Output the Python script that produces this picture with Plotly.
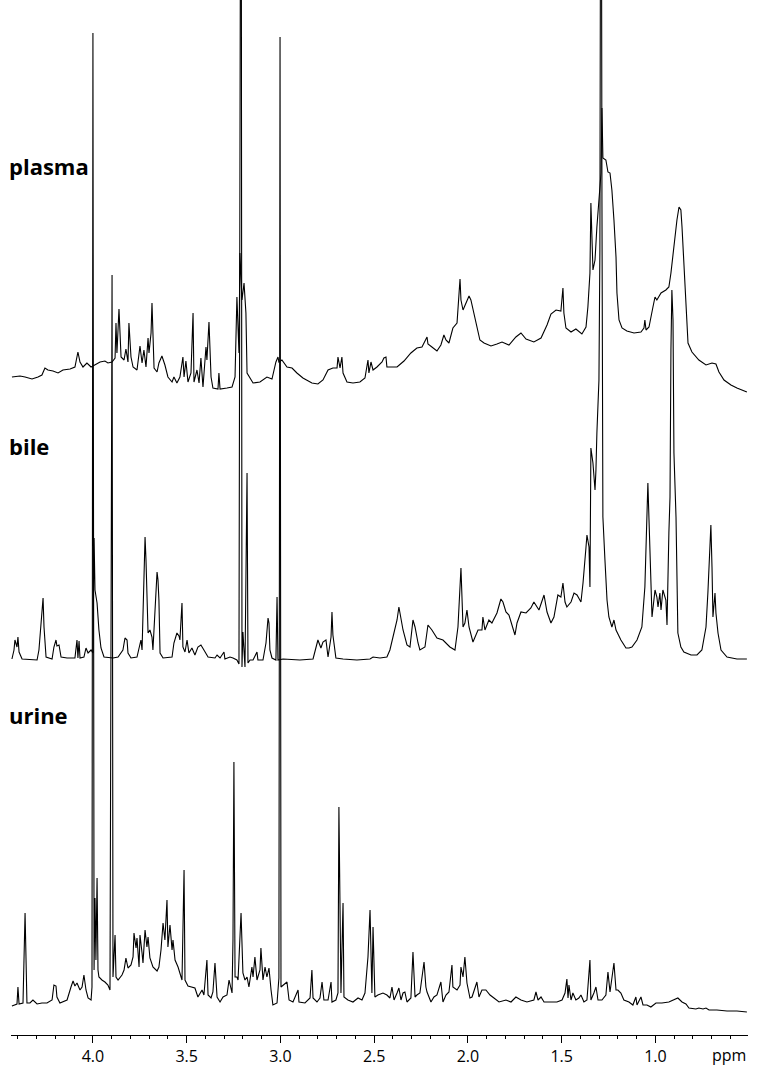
import plotly.graph_objects as go

SPECTRUM_NAMES = ["plasma", "bile", "urine"]

PLASMA_PPM = [4.432, 4.389, 4.362, 4.325, 4.293, 4.272, 4.256, 4.240, 4.213, 4.186, 4.160, 4.122, 4.096, 4.080, 4.069, 4.053, 4.032, 4.010, 4.000, 3.962,
              3.936, 3.920, 3.898, 3.882, 3.877, 3.872, 3.861, 3.850, 3.834, 3.824, 3.813, 3.808, 3.797, 3.786, 3.765, 3.749, 3.738, 3.728, 3.717, 3.706,
              3.701, 3.690, 3.685, 3.674, 3.658, 3.648, 3.632, 3.616, 3.600, 3.578, 3.568, 3.552, 3.536, 3.520, 3.514, 3.504, 3.493, 3.477, 3.466, 3.461,
              3.445, 3.434, 3.424, 3.413, 3.397, 3.392, 3.381, 3.370, 3.360, 3.333, 3.328, 3.322, 3.285, 3.258, 3.242, 3.232, 3.221, 3.216, 3.205, 3.194,
              3.184, 3.178, 3.146, 3.109, 3.072, 3.045, 3.024, 3.013, 3.008, 2.992, 2.965, 2.938, 2.912, 2.880, 2.832, 2.800, 2.773, 2.746, 2.720, 2.698,
              2.693, 2.682, 2.672, 2.666, 2.645, 2.613, 2.576, 2.549, 2.533, 2.528, 2.517, 2.506, 2.485, 2.458, 2.448, 2.437, 2.432, 2.378, 2.341, 2.304,
              2.272, 2.245, 2.218, 2.213, 2.192, 2.165, 2.144, 2.128, 2.117, 2.101, 2.080, 2.058, 2.042, 2.037, 2.026, 1.994, 1.984, 1.957, 1.936, 1.914,
              1.877, 1.845, 1.818, 1.781, 1.744, 1.717, 1.690, 1.648, 1.610, 1.578, 1.557, 1.530, 1.504, 1.493, 1.488, 1.477, 1.450, 1.424, 1.408, 1.392,
              1.370, 1.360, 1.349, 1.344, 1.333, 1.322, 1.312, 1.301, 1.290, 1.285, 1.280, 1.264, 1.253, 1.242, 1.232, 1.221, 1.210, 1.205, 1.194, 1.178,
              1.152, 1.114, 1.077, 1.061, 1.056, 1.050, 1.034, 1.013, 1.002, 0.992, 0.970, 0.944, 0.928, 0.917, 0.901, 0.885, 0.874, 0.864, 0.858, 0.848,
              0.837, 0.826, 0.805, 0.768, 0.730, 0.698, 0.677, 0.661, 0.634, 0.597, 0.565, 0.512]
PLASMA_INT = [23, 24, 23, 21, 23, 25, 32, 30, 29, 27, 30, 31, 33, 48, 38, 33, 37, 33, 34, 38,
              39, 37, 38, 42, 77, 47, 91, 43, 40, 51, 38, 77, 43, 33, 30, 54, 37, 50, 33, 62,
              47, 67, 97, 32, 28, 37, 44, 35, 23, 18, 23, 17, 23, 43, 23, 39, 18, 27, 87, 18,
              30, 17, 42, 13, 53, 40, 78, 23, 12, 11, 27, 11, 12, 13, 23, 103, 47, 147, 100, 117,
              87, 27, 17, 18, 23, 21, 38, 43, 38, 40, 33, 32, 27, 22, 17, 16, 20, 30, 32, 32,
              43, 32, 43, 27, 18, 17, 18, 22, 40, 27, 38, 30, 33, 38, 42, 43, 33, 33, 39, 47,
              52, 53, 63, 56, 53, 49, 55, 65, 60, 57, 72, 77, 121, 100, 90, 104, 100, 77, 60, 57,
              54, 56, 58, 55, 63, 67, 61, 58, 62, 75, 86, 90, 89, 112, 87, 72, 68, 71, 68, 66,
              73, 93, 127, 197, 130, 140, 173, 200, 227, 292, 242, 240, 228, 227, 210, 180, 143, 107, 80, 72,
              69, 67, 68, 72, 80, 70, 73, 93, 103, 100, 107, 110, 113, 127, 157, 180, 193, 190, 173, 137,
              93, 57, 48, 40, 35, 37, 36, 28, 20, 15, 12, 8]

BILE_PPM = [4.432, 4.421, 4.416, 4.405, 4.400, 4.394, 4.378, 4.298, 4.288, 4.277, 4.266, 4.261, 4.250, 4.218, 4.208, 4.197, 4.192, 4.181, 4.170, 4.138,
            4.096, 4.085, 4.080, 4.074, 4.069, 4.048, 4.037, 4.026, 4.010, 4.000, 3.994, 3.989, 3.984, 3.978, 3.968, 3.957, 3.941, 3.909, 3.893, 3.866,
            3.840, 3.829, 3.818, 3.813, 3.797, 3.765, 3.754, 3.744, 3.738, 3.733, 3.722, 3.717, 3.712, 3.706, 3.696, 3.685, 3.680, 3.664, 3.658, 3.653,
            3.648, 3.642, 3.626, 3.578, 3.568, 3.552, 3.541, 3.536, 3.525, 3.520, 3.509, 3.498, 3.488, 3.472, 3.456, 3.440, 3.424, 3.408, 3.386, 3.349,
            3.338, 3.322, 3.301, 3.296, 3.269, 3.253, 3.232, 3.221, 3.210, 3.205, 3.200, 3.189, 3.178, 3.173, 3.162, 3.146, 3.125, 3.120, 3.093, 3.077,
            3.066, 3.061, 3.056, 3.045, 3.024, 3.018, 3.013, 2.986, 2.896, 2.826, 2.810, 2.800, 2.784, 2.773, 2.757, 2.746, 2.730, 2.725, 2.720, 2.704,
            2.666, 2.592, 2.522, 2.506, 2.469, 2.432, 2.416, 2.400, 2.378, 2.368, 2.357, 2.346, 2.325, 2.309, 2.293, 2.282, 2.266, 2.256, 2.229, 2.213,
            2.192, 2.165, 2.133, 2.096, 2.069, 2.053, 2.037, 2.026, 2.016, 2.005, 1.994, 1.973, 1.946, 1.925, 1.920, 1.909, 1.888, 1.872, 1.845, 1.824,
            1.813, 1.797, 1.781, 1.749, 1.738, 1.717, 1.690, 1.664, 1.648, 1.621, 1.594, 1.578, 1.557, 1.541, 1.520, 1.504, 1.493, 1.482, 1.472, 1.450,
            1.434, 1.418, 1.397, 1.386, 1.370, 1.365, 1.354, 1.349, 1.344, 1.333, 1.322, 1.317, 1.312, 1.301, 1.296, 1.290, 1.285, 1.280, 1.269, 1.258,
            1.248, 1.232, 1.221, 1.210, 1.184, 1.157, 1.141, 1.125, 1.098, 1.072, 1.056, 1.045, 1.040, 1.034, 1.024, 1.018, 1.002, 0.992, 0.986, 0.976,
            0.970, 0.960, 0.944, 0.938, 0.928, 0.922, 0.917, 0.912, 0.906, 0.901, 0.890, 0.885, 0.880, 0.864, 0.848, 0.810, 0.778, 0.752, 0.730, 0.720,
            0.714, 0.704, 0.698, 0.693, 0.682, 0.677, 0.666, 0.650, 0.618, 0.565, 0.512]
BILE_INT = [1, 10, 20, 13, 23, 8, 1, 0, 10, 37, 62, 33, 3, 1, 13, 20, 14, 15, 3, 2,
            2, 20, 2, 19, 2, 3, 12, 7, 10, 7, 122, 70, 65, 57, 30, 12, 3, 2, 2, 3,
            10, 22, 20, 7, 2, 3, 12, 20, 10, 40, 123, 100, 67, 27, 30, 23, 10, 60, 88, 80,
            60, 7, 2, 3, 17, 27, 24, 20, 57, 13, 8, 20, 7, 12, 5, 13, 15, 10, 3, 2,
            5, 2, 8, 1, 3, 2, 0, -4, 1060, -7, 28, -7, 187, -3, 0, 0, 8, 0, 0, 17,
            42, 37, 10, 2, 0, 63, 0, 1, 0, 1, 13, 20, 12, 18, 20, 3, 23, 48, 25, 2,
            1, 0, 1, 3, 2, 3, 10, 23, 40, 53, 43, 30, 15, 13, 40, 33, 17, 10, 13, 35,
            30, 22, 20, 13, 10, 33, 92, 33, 37, 50, 33, 18, 30, 30, 43, 30, 40, 37, 47, 61,
            58, 48, 45, 25, 37, 48, 47, 52, 58, 50, 65, 48, 37, 43, 65, 63, 77, 58, 53, 58,
            67, 65, 58, 77, 113, 125, 113, 73, 212, 197, 170, 190, 227, 280, 410, 1060, 460, 143, 100, 60,
            43, 33, 40, 30, 20, 12, 12, 13, 20, 33, 73, 157, 177, 140, 87, 43, 70, 63, 53, 67,
            50, 70, 60, 35, 127, 163, 310, 370, 340, 207, 143, 80, 27, 13, 8, 5, 5, 10, 33, 67,
            97, 135, 93, 43, 67, 47, 27, 10, 3, 1, 1]

URINE_PPM = [4.432, 4.405, 4.400, 4.394, 4.373, 4.362, 4.352, 4.336, 4.320, 4.298, 4.272, 4.245, 4.218, 4.208, 4.197, 4.192, 4.176, 4.138, 4.117, 4.106,
             4.096, 4.085, 4.069, 4.058, 4.048, 4.037, 4.026, 4.010, 4.005, 4.000, 3.994, 3.989, 3.984, 3.978, 3.973, 3.968, 3.952, 3.936, 3.920, 3.909,
             3.898, 3.893, 3.882, 3.877, 3.866, 3.845, 3.834, 3.824, 3.813, 3.797, 3.786, 3.781, 3.770, 3.765, 3.754, 3.749, 3.738, 3.733, 3.722, 3.712,
             3.706, 3.696, 3.680, 3.658, 3.648, 3.637, 3.626, 3.616, 3.605, 3.600, 3.589, 3.578, 3.573, 3.562, 3.546, 3.525, 3.514, 3.509, 3.493, 3.472,
             3.456, 3.440, 3.418, 3.408, 3.392, 3.386, 3.370, 3.360, 3.349, 3.338, 3.322, 3.306, 3.285, 3.274, 3.258, 3.253, 3.248, 3.242, 3.232, 3.226,
             3.210, 3.200, 3.189, 3.178, 3.168, 3.152, 3.146, 3.136, 3.125, 3.109, 3.104, 3.093, 3.082, 3.072, 3.061, 3.050, 3.040, 3.018, 3.008, 3.002,
             2.997, 2.965, 2.954, 2.933, 2.906, 2.901, 2.869, 2.842, 2.832, 2.826, 2.805, 2.789, 2.778, 2.768, 2.746, 2.730, 2.725, 2.704, 2.693, 2.688,
             2.677, 2.666, 2.661, 2.640, 2.613, 2.586, 2.565, 2.549, 2.533, 2.522, 2.512, 2.506, 2.496, 2.480, 2.453, 2.432, 2.416, 2.405, 2.394, 2.378,
             2.368, 2.357, 2.346, 2.336, 2.325, 2.304, 2.293, 2.282, 2.272, 2.256, 2.245, 2.234, 2.224, 2.218, 2.197, 2.181, 2.165, 2.144, 2.133, 2.117,
             2.101, 2.085, 2.080, 2.058, 2.042, 2.037, 2.026, 2.016, 2.005, 1.989, 1.978, 1.962, 1.952, 1.941, 1.925, 1.904, 1.882, 1.861, 1.834, 1.797,
             1.770, 1.744, 1.717, 1.685, 1.648, 1.637, 1.626, 1.610, 1.594, 1.557, 1.525, 1.498, 1.482, 1.472, 1.466, 1.461, 1.450, 1.440, 1.424, 1.408,
             1.397, 1.381, 1.365, 1.349, 1.344, 1.328, 1.317, 1.306, 1.285, 1.264, 1.253, 1.242, 1.232, 1.221, 1.210, 1.200, 1.184, 1.168, 1.141, 1.120,
             1.104, 1.098, 1.077, 1.066, 1.045, 1.024, 0.997, 0.965, 0.928, 0.901, 0.880, 0.858, 0.837, 0.821, 0.784, 0.768, 0.746, 0.730, 0.714, 0.672,
             0.618, 0.565, 0.512]
URINE_INT = [6, 8, 25, 8, 9, 99, 9, 9, 12, 8, 9, 9, 12, 27, 26, 15, 9, 12, 25, 31,
             26, 29, 22, 25, 37, 22, 14, 12, 25, 979, 42, 114, 52, 134, 42, 35, 32, 30, 27, 22,
             737, 35, 77, 35, 32, 37, 42, 54, 44, 47, 55, 79, 64, 74, 45, 77, 59, 49, 82, 65,
             75, 54, 45, 41, 45, 62, 89, 72, 112, 65, 87, 62, 72, 52, 45, 32, 142, 32, 26, 25,
             24, 15, 22, 17, 52, 17, 14, 20, 49, 15, 10, 15, 17, 32, 19, 72, 250, 35, 35, 32,
             99, 39, 32, 35, 25, 45, 35, 55, 32, 42, 64, 32, 45, 35, 44, 22, 7, 9, 34, 975,
             25, 30, 12, 10, 22, 10, 9, 14, 42, 14, 10, 14, 30, 12, 12, 30, 10, 12, 19, 205,
             19, 109, 15, 12, 10, 14, 12, 19, 55, 102, 19, 85, 15, 17, 19, 17, 14, 25, 12, 19,
             24, 12, 19, 20, 10, 14, 60, 15, 17, 19, 35, 50, 25, 20, 10, 15, 17, 30, 10, 17,
             20, 47, 25, 22, 27, 45, 35, 55, 29, 14, 15, 25, 30, 15, 22, 22, 17, 14, 10, 12,
             10, 15, 12, 10, 12, 20, 12, 15, 10, 10, 10, 12, 19, 33, 14, 27, 12, 19, 12, 14,
             17, 10, 12, 52, 12, 19, 25, 12, 12, 17, 40, 20, 32, 49, 22, 22, 19, 12, 10, 7,
             15, 7, 15, 7, 7, 5, 9, 9, 10, 12, 14, 10, 8, 4, 3, 4, 3, 4, 2, 2,
             1, 1, 0]

TICK_VALUES = [4.0, 3.5, 3.0, 2.5, 2.0, 1.5, 1.0]
TICK_LABELS = ["4.0", "3.5", "3.0", "2.5", "2.0", "1.5", "1.0"]
AXIS_UNIT = "ppm"

# vertical stacking offsets (layout, not data)
OFFSETS = {"plasma": 635, "bile": 375, "urine": 23}
LABEL_Y = {"plasma": 0.840, "bile": 0.569, "urine": 0.309}

series = {
    "plasma": (PLASMA_PPM, PLASMA_INT),
    "bile": (BILE_PPM, BILE_INT),
    "urine": (URINE_PPM, URINE_INT),
}

fig = go.Figure()
for name in SPECTRUM_NAMES:
    xs, ys = series[name]
    fig.add_trace(go.Scatter(
        x=xs, y=[v + OFFSETS[name] for v in ys], mode="lines",
        line=dict(color="#000000", width=1.1), showlegend=False, hoverinfo="skip",
    ))

for name in SPECTRUM_NAMES:
    fig.add_annotation(
        text=f"<b>{name}</b>", xref="paper", yref="paper", x=-0.006, y=LABEL_Y[name],
        xanchor="left", yanchor="middle", showarrow=False,
        font=dict(family="Open Sans", size=22, color="#000000"),
    )

fig.add_annotation(
    text=AXIS_UNIT, xref="paper", yref="paper", x=1.0, y=0, yshift=-20,
    xanchor="right", yanchor="middle", showarrow=False,
    font=dict(family="Open Sans", size=16, color="#000000"),
)

fig.update_layout(
    width=769, height=1068,
    margin=dict(l=11, r=21, t=0, b=33),
    paper_bgcolor="white", plot_bgcolor="white",
    hovermode=False,
    xaxis=dict(
        range=[4.437, 0.506], showgrid=False, zeroline=False,
        showline=True, linecolor="#000000", linewidth=1,
        ticks="outside", ticklen=7, tickwidth=1, tickcolor="#000000",
        tickvals=TICK_VALUES, ticktext=TICK_LABELS,
        tickfont=dict(family="Open Sans", size=16, color="#000000"),
        minor=dict(dtick=0.1, tick0=0, ticks="outside", ticklen=3, tickwidth=1, tickcolor="#000000", showgrid=False),
    ),
    yaxis=dict(range=[0, 1035], visible=False, showgrid=False, zeroline=False),
)

fig.write_html(
    "out.html",
    config={"displayModeBar": False, "staticPlot": True},
    post_script="document.body.style.margin='0';document.body.style.overflow='hidden';",
)
